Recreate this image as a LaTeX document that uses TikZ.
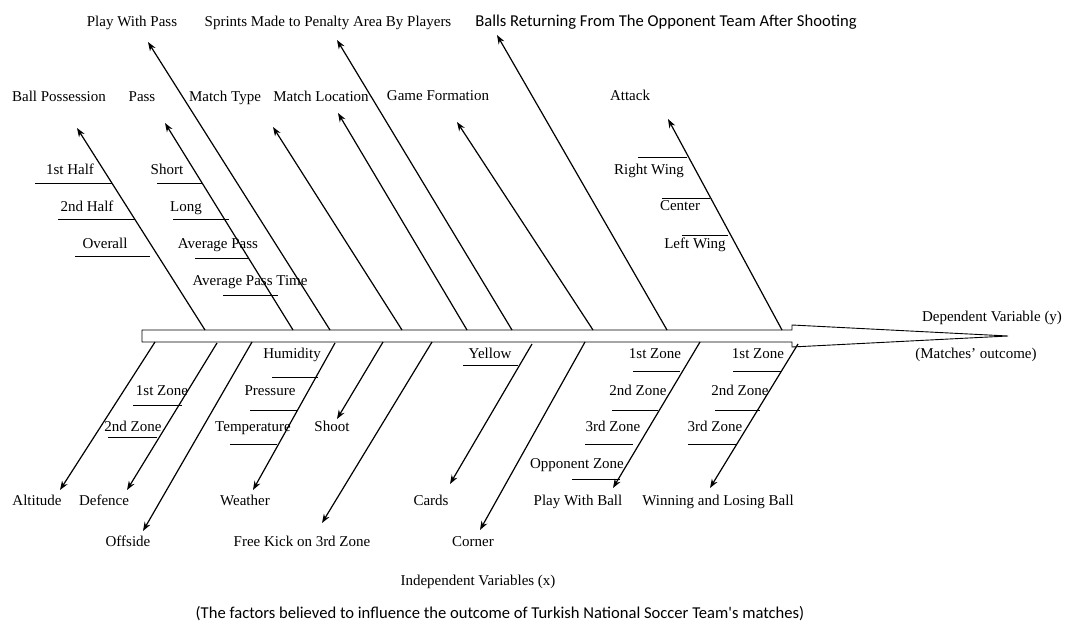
\documentclass[tikz,border=0pt]{standalone}
\usepackage{fontspec}
\setmainfont{Liberation Serif}
\newfontfamily\calib{Carlito}
\usetikzlibrary{arrows.meta}
\begin{document}
\begin{tikzpicture}[x=1pt,y=-1pt,
  lbl/.style={font=\fontsize{15}{18}\selectfont, inner sep=0pt, text height=10pt, text depth=3pt},
  sanslbl/.style={font=\calib\fontsize{16.6}{19}\selectfont, inner sep=0pt, text height=11pt, text depth=3pt},
  branch/.style={draw, line width=1.2pt, -{Stealth[length=9pt,width=6.5pt]}},
  tick/.style={draw, line width=0.9pt},
  spine/.style={draw, line width=0.9pt, fill=white}]
\useasboundingbox[fill=white] (0,0) rectangle (1066,627);

% spine with arrow head
\draw[spine] (142,330) -- (792,330) -- (792,325) -- (1008,336) -- (792,347) -- (792,342) -- (142,342) -- cycle;

% ---------- upper labels ----------
\node[lbl] (bp) at (59,98) {Ball Possession};
\node[lbl] (pass) at (142,98) {Pass};
\node[lbl] (pwp) at (132,23) {Play With Pass};
\node[lbl] (mt) at (225,98) {Match Type};
\node[lbl] (ml) at (321,98) {Match Location};
\node[lbl] (spr) at (328,23) {Sprints Made to Penalty Area By Players};
\node[lbl] (gf) at (438,97) {Game Formation};
\node[sanslbl] (br) at (666,22) {Balls Returning From The Opponent Team After Shooting};
\node[lbl] (att) at (630,97) {Attack};

% upper branch coordinates
\coordinate (s1) at (205,330); \coordinate (t1) at (77,128);
\coordinate (s2) at (293,330); \coordinate (t2) at (165,123);
\coordinate (s3) at (330,330); \coordinate (t3) at (148,42);
\coordinate (s4) at (402,330); \coordinate (t4) at (273,127);
\coordinate (s5) at (467,330); \coordinate (t5) at (338,113);
\coordinate (s6) at (512,330); \coordinate (t6) at (337,40);
\coordinate (s7) at (593,330); \coordinate (t7) at (457,122);
\coordinate (s8) at (667,330); \coordinate (t8) at (497,35);
\coordinate (s9) at (782,330); \coordinate (t9) at (668,119);
\foreach \i in {1,...,9} {\draw[branch] (s\i) -- (t\i);}

% upper sub labels
\node[lbl] (h1) at (70,171) {1st Half};
\node[lbl] (h2) at (87,208) {2nd Half};
\node[lbl] (ov) at (105,245) {Overall};
\node[lbl] (sh) at (167,171) {Short};
\node[lbl] (lo) at (186,208) {Long};
\node[lbl] (ap) at (218,245) {Average Pass};
\node[lbl] (apt) at (250,282) {Average Pass Time};
\node[lbl] (rw) at (649,171) {Right Wing};
\node[lbl] (ce) at (680,207) {Center};
\node[lbl] (lw) at (695,245) {Left Wing};
\draw[tick] (35,183) -- (112,183);
\draw[tick] (58,219) -- (135,219);
\draw[tick] (75,256) -- (150,256);
\draw[tick] (157,183) -- (202,183);
\draw[tick] (173,219) -- (229,219);
\draw[tick] (195,258) -- (248,258);
\draw[tick] (223,295) -- (278,295);
\draw[tick] (638,157) -- (687,157);
\draw[tick] (662,198) -- (710,198);
\draw[tick] (682,235) -- (728,235);

% ---------- lower labels ----------
\node[lbl] (alt) at (37,502) {Altitude};
\node[lbl] (def) at (104,502) {Defence};
\node[lbl] (off) at (128,543) {Offside};
\node[lbl] (wea) at (245,502) {Weather};
\node[lbl] (sho) at (332,428) {Shoot};
\node[lbl] (fk) at (302,543) {Free Kick on 3rd Zone};
\node[lbl] (car) at (431,502) {Cards};
\node[lbl] (cor) at (473,543) {Corner};
\node[lbl] (pwb) at (578,502) {Play With Ball};
\node[lbl] (wlb) at (718,502) {Winning and Losing Ball};

\coordinate (u1) at (155,342);  \coordinate (v1) at (60,490);
\coordinate (u2) at (217,343);  \coordinate (v2) at (127,490);
\coordinate (u3) at (252,342);  \coordinate (v3) at (143,531);
\coordinate (u4) at (335,343);  \coordinate (v4) at (253,490);
\coordinate (u5) at (383,342);  \coordinate (v5) at (337,419);
\coordinate (u6) at (432,342);  \coordinate (v6) at (322,523);
\coordinate (u7) at (532,344);  \coordinate (v7) at (450,484);
\coordinate (u8) at (585,342);  \coordinate (v8) at (480,530);
\coordinate (u9) at (700,342);  \coordinate (v9) at (613,488);
\coordinate (u10) at (798,344); \coordinate (v10) at (710,488);
\foreach \i in {1,...,10} {\draw[branch] (u\i) -- (v\i);}

% lower sub labels
\node[lbl] (dz1) at (162,392) {1st Zone};
\node[lbl] (dz2) at (133,428) {2nd Zone};
\node[lbl] (hum) at (292,355) {Humidity};
\node[lbl] (pre) at (270,392) {Pressure};
\node[lbl] (tem) at (253,428) {Temperature};
\node[lbl] (yel) at (490,355) {Yellow};
\node[lbl] (pz1) at (655,355) {1st Zone};
\node[lbl] (pz2) at (638,392) {2nd Zone};
\node[lbl] (pz3) at (613,428) {3rd Zone};
\node[lbl] (poz) at (577,465) {Opponent Zone};
\node[lbl] (wz1) at (758,355) {1st Zone};
\node[lbl] (wz2) at (740,392) {2nd Zone};
\node[lbl] (wz3) at (715,428) {3rd Zone};
\draw[tick] (133,405) -- (182,405);
\draw[tick] (108,437) -- (157,437);
\draw[tick] (272,377) -- (318,377);
\draw[tick] (250,410) -- (297,410);
\draw[tick] (230,444) -- (277,444);
\draw[tick] (463,365) -- (518,365);
\draw[tick] (633,371) -- (680,371);
\draw[tick] (612,410) -- (658,410);
\draw[tick] (585,444) -- (633,444);
\draw[tick] (572,479) -- (620,479);
\draw[tick] (733,371) -- (782,371);
\draw[tick] (715,410) -- (760,410);
\draw[tick] (688,444) -- (737,444);

% right and bottom texts
\node[lbl] (dv) at (992,318) {Dependent Variable (y)};
\node[lbl] (mo) at (976,355) {(Matches' outcome)};
\node[lbl] (iv) at (478,582) {Independent Variables (x)};
\node[sanslbl] (cap) at (500,614) {(The factors believed to influence the outcome of Turkish National Soccer Team's matches)};
\end{tikzpicture}
\end{document}
